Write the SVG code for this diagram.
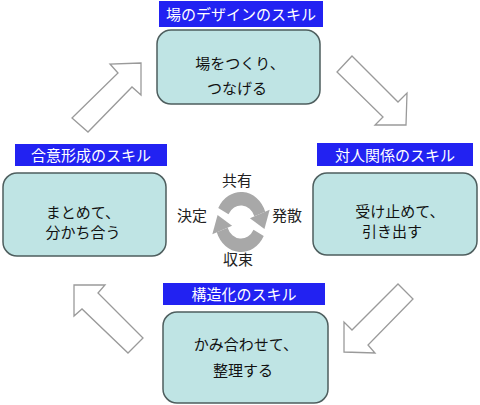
<svg xmlns="http://www.w3.org/2000/svg" width="480" height="405" viewBox="0 0 480 405">
<style>
.lbl{fill:#2222F2}
.lt{fill:#fff;font-family:"Noto Sans CJK JP","Noto Sans",sans-serif;font-size:15px;text-anchor:middle}
.box{fill:#BFE4E4;stroke:#4E5E5E;stroke-width:1.5}
.nt{fill:#111;font-family:"Noto Sans CJK JP","Noto Sans",sans-serif;font-size:15px;text-anchor:middle}
.ct{fill:#222;font-family:"Noto Sans CJK JP","Noto Sans",sans-serif;font-size:15px;text-anchor:middle}
.ar{fill:#fff;stroke:#9A9A9A;stroke-width:1.3;stroke-linejoin:miter}
.cyc{fill:none;stroke:#A8A8A8;stroke-width:11}
.cyh{fill:#A8A8A8}
</style>
<rect width="480" height="405" fill="#fff"/>
<g id="connectors">
<polygon class="ar" points="141,63 110,64 118,73 72,118 88,132 132,87 141,95"/>
<polygon class="ar" points="352,56 398,102 407,93 406,125 375,125 383,117 337,72"/>
<polygon class="ar" points="344,352 344,322 352,330 398,284 413,299 368,345 375,353"/>
<polygon class="ar" points="74,285 105,285 98,293 143,338 128,353 82,309 74,316"/>
</g>
<g id="node-top">
<rect class="lbl" x="159" y="1" width="164" height="26"/>
<text class="lt" x="241" y="20">場のデザインのスキル</text>
<rect class="box" x="157" y="30" width="163" height="74" rx="14"/>
<text class="nt" x="240" y="69">場をつくり、</text>
<text class="nt" x="237" y="94">つなげる</text>
</g>
<g id="node-right">
<rect class="lbl" x="317" y="143" width="156" height="23"/>
<text class="lt" x="395" y="161">対人関係のスキル</text>
<rect class="box" x="313" y="173" width="164" height="82" rx="14"/>
<text class="nt" x="400" y="217">受け止めて、</text>
<text class="nt" x="392" y="237">引き出す</text>
</g>
<g id="node-left">
<rect class="lbl" x="15" y="144" width="152" height="22"/>
<text class="lt" x="91" y="161">合意形成のスキル</text>
<rect class="box" x="3" y="173" width="163" height="83" rx="14"/>
<text class="nt" x="83" y="218">まとめて、</text>
<text class="nt" x="83" y="238">分かち合う</text>
</g>
<g id="node-bottom">
<rect class="lbl" x="163" y="283" width="162" height="22"/>
<text class="lt" x="244" y="300">構造化のスキル</text>
<rect class="box" x="163" y="312" width="165" height="91" rx="14"/>
<text class="nt" x="246" y="350">かみ合わせて、</text>
<text class="nt" x="243" y="376">整理する</text>
</g>
<g id="cycle">
<g transform="translate(241,222) scale(1.05,1.22)">
<path class="cyc" d="M-16.8,-8.9 A19,19 0 0 1 17.9,-6.5"/>
<polygon class="cyh" points="27.3,-10 8.5,-3 22.3,5.7"/>
<path class="cyc" d="M16.8,8.9 A19,19 0 0 1 -17.9,6.5"/>
<polygon class="cyh" points="-27.3,10 -8.5,3 -22.3,-5.7"/>
</g>
<text class="ct" x="237" y="186">共有</text>
<text class="ct" x="192" y="221">決定</text>
<text class="ct" x="287" y="221">発散</text>
<text class="ct" x="238" y="265">収束</text>
</g>
</svg>
